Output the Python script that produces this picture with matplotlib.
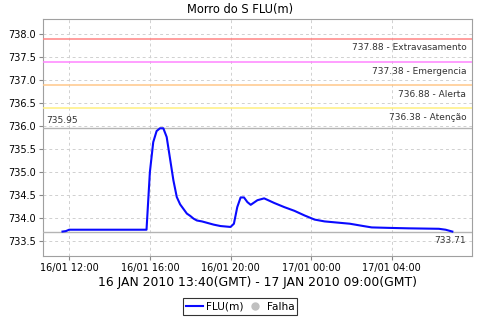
import matplotlib
matplotlib.use("Agg")
import matplotlib.pyplot as plt
import matplotlib.dates as mdates
from matplotlib.lines import Line2D
import pandas as pd

# leituras (hora local) e nivel FLU(m)
times = ["2010-01-16 11:40", "2010-01-16 11:50", "2010-01-16 12:00", "2010-01-16 13:00",
         "2010-01-16 14:00", "2010-01-16 15:00", "2010-01-16 15:50", "2010-01-16 16:00",
         "2010-01-16 16:10", "2010-01-16 16:20", "2010-01-16 16:30", "2010-01-16 16:40",
         "2010-01-16 16:50", "2010-01-16 17:00", "2010-01-16 17:10", "2010-01-16 17:20",
         "2010-01-16 17:30", "2010-01-16 17:40", "2010-01-16 17:50", "2010-01-16 18:00",
         "2010-01-16 18:10", "2010-01-16 18:20", "2010-01-16 18:35", "2010-01-16 19:10",
         "2010-01-16 19:30", "2010-01-16 20:00", "2010-01-16 20:10", "2010-01-16 20:20",
         "2010-01-16 20:30", "2010-01-16 20:40", "2010-01-16 20:50", "2010-01-16 21:00",
         "2010-01-16 21:20", "2010-01-16 21:40", "2010-01-16 22:10", "2010-01-16 22:40",
         "2010-01-16 23:10", "2010-01-16 23:40", "2010-01-17 00:10", "2010-01-17 00:40",
         "2010-01-17 01:10", "2010-01-17 01:55", "2010-01-17 02:35", "2010-01-17 03:00",
         "2010-01-17 03:50", "2010-01-17 04:50", "2010-01-17 06:20", "2010-01-17 06:40",
         "2010-01-17 07:00"]
levels = [733.71, 733.72, 733.75, 733.75,
          733.75, 733.75, 733.75, 735.00,
          735.65, 735.89, 735.95, 735.95,
          735.76, 735.29, 734.82, 734.46,
          734.30, 734.20, 734.10, 734.05,
          733.99, 733.95, 733.93, 733.86,
          733.83, 733.81, 733.88, 734.24,
          734.45, 734.45, 734.35, 734.29,
          734.39, 734.43, 734.33, 734.24,
          734.16, 734.06, 733.97, 733.93,
          733.91, 733.88, 733.83, 733.80,
          733.79, 733.78, 733.77, 733.75,
          733.71]

# cotas de referencia
ref_values = [737.88, 737.38, 736.88, 736.38]
ref_names = ["Extravasamento", "Emergencia", "Alerta", "Atenção"]
ref_colors = ["#ff8484", "#ff84ff", "#ffc88a", "#fff080"]

t = pd.to_datetime(times)
vmax = max(levels)
vmin = min(levels)

fig = plt.figure(figsize=(4.8, 3.2), dpi=100)
ax = fig.add_axes([0.0896, 0.2, 0.8934, 0.7406])

ax.plot(t, levels, color="#0a0aff", lw=1.5, zorder=5)
ax.set_ylim(733.18, 738.32)
ax.margins(x=0.05)

for v, n, c in zip(ref_values, ref_names, ref_colors):
    ax.axhline(v, color=c, lw=1.1, zorder=3)
    ax.annotate(f"{v:.2f} - {n}", xy=(1, v), xycoords=("axes fraction", "data"),
                xytext=(-4, -3), textcoords="offset points", ha="right", va="top",
                fontsize=6.5, color="#333333")

# maximo e minimo
ax.axhline(vmax, color="#b4b4b4", lw=1, zorder=3)
ax.annotate(f"{vmax:.2f}", xy=(0, vmax), xycoords=("axes fraction", "data"),
            xytext=(2, 2.5), textcoords="offset points", ha="left", va="bottom",
            fontsize=6.5, color="#333333")
ax.axhline(vmin, color="#b4b4b4", lw=1, zorder=3)
ax.annotate(f"{vmin:.2f}", xy=(1, vmin), xycoords=("axes fraction", "data"),
            xytext=(-4, -3), textcoords="offset points", ha="right", va="top",
            fontsize=6.5, color="#333333")

ax.yaxis.set_major_locator(plt.MultipleLocator(0.5))
ax.yaxis.set_major_formatter(plt.FormatStrFormatter("%.1f"))
ax.xaxis.set_major_locator(mdates.HourLocator(byhour=[0, 4, 8, 12, 16, 20]))
ax.xaxis.set_major_formatter(mdates.DateFormatter("%d/%m %H:%M"))
ax.tick_params(labelsize=7, length=3, color="#888888", pad=2)
ax.grid(True, color="#d0d0d0", ls=(0, (3, 3)), lw=0.7)
for s in ax.spines.values():
    s.set_color("#a0a0a0")

fig.suptitle("Morro do S FLU(m)", fontsize=8.3, y=0.99)
ax.set_xlabel("16 JAN 2010 13:40(GMT) - 17 JAN 2010 09:00(GMT)", fontsize=8.9, labelpad=2)

handles = [Line2D([], [], color="#0a0aff", lw=1.5),
           Line2D([], [], color="#c0c0c0", marker="o", ls="", markersize=5)]
leg = fig.legend(handles, ["FLU(m)", "Falha"], loc="lower center", bbox_to_anchor=(0.5, 0.0),
                 ncol=2, fontsize=7.6, frameon=True, fancybox=False, edgecolor="black",
                 handlelength=1.6, handletextpad=0.3, columnspacing=0.3, borderpad=0.3)
leg.get_frame().set_linewidth(0.8)

fig.savefig("out.png", dpi=100)
